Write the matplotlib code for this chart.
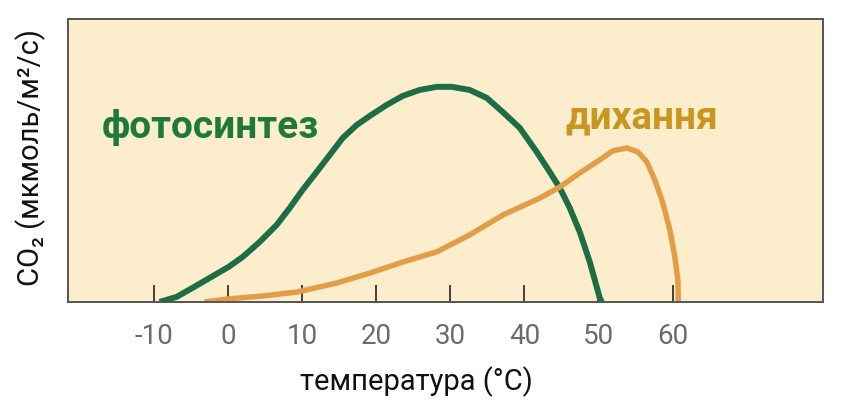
import numpy as np
import matplotlib.pyplot as plt

# temperature (°C) and CO2 rate (arbitrary units, 0..100)
photo_t = [-9.24, -6.94, -4.78, -2.48, 0.08, 1.97, 4.27, 6.56, 8.32, 10.07, 11.96,
           13.72, 15.47, 17.36, 19.12, 21.41, 23.58, 25.87, 28.17, 30.19, 32.62,
           34.92, 37.08, 39.38, 41.67, 43.43, 44.78, 46.13, 47.48, 48.83, 50.18, 50.45]
photo_co2 = [0.0, 1.8, 5.0, 8.5, 12.4, 15.9, 21.2, 27.2, 33.2, 39.6, 45.9,
             51.9, 57.9, 62.5, 65.7, 69.6, 72.8, 74.9, 76.0, 76.0, 74.9,
             72.1, 67.1, 61.5, 53.0, 45.9, 40.3, 33.2, 24.7, 14.1, 1.4, 0.0]

resp_t = [-3.16, 0.08, 4.67, 9.27, 14.67, 19.12, 23.58, 28.17, 32.62, 37.08, 42.08,
          44.78, 47.48, 50.18, 51.94, 53.83, 55.32, 56.53, 57.61, 58.69, 59.64,
          60.31, 60.72, 60.78]
resp_co2 = [0.0, 1.1, 2.1, 3.5, 6.7, 10.2, 14.1, 17.7, 23.7, 30.7, 36.7,
            40.6, 45.6, 50.2, 53.4, 54.4, 53.0, 49.5, 43.1, 35.0, 25.4,
            15.9, 7.8, 0.0]

ticks = [-10, 0, 10, 20, 30, 40, 50, 60]

fonts = ['Roboto', 'DejaVu Sans']

fig = plt.figure(figsize=(8.66, 4.2), dpi=100)
ax = fig.add_axes([0.0785, 0.281, 0.8718, 0.674])
ax.set_facecolor('#fcedcc')

ax.plot(photo_t, photo_co2, color='#1e6e45', lw=4.3,
        solid_capstyle='butt', solid_joinstyle='round')
ax.plot(resp_t, resp_co2, color='#e29d45', lw=3.9,
        solid_capstyle='butt', solid_joinstyle='round')

ax.set_xlim(-21.6, 80.3)
ax.set_ylim(0, 100)

for s in ax.spines.values():
    s.set_color('#555555')
    s.set_linewidth(1.4)

ax.set_yticks([])
ax.set_xticks(ticks)
ax.set_xticklabels([str(t) for t in ticks], family=fonts)
ax.tick_params(axis='x', direction='in', length=12, width=1.3, color='#333333',
               labelsize=20, labelcolor='#6b6b6b', pad=15)

ax.text(-17, 61.5, 'фотосинтез', color='#1e7a3c', fontsize=28, fontweight='bold',
        family=fonts, ha='left', va='center')
ax.text(45.5, 65, 'дихання', color='#c9961f', fontsize=28, fontweight='bold',
        family=fonts, ha='left', va='center')

ax.set_xlabel('температура (°C)', fontsize=21, family=fonts, color='#111111', va='center')
ax.xaxis.set_label_coords(0.462, -0.283)
ax.set_ylabel('CO₂ (мкмоль/м²/с)', fontsize=21, family=fonts, color='#111111', va='center')
ax.yaxis.set_label_coords(-0.05, 0.512)

fig.savefig('out.png', dpi=100)
